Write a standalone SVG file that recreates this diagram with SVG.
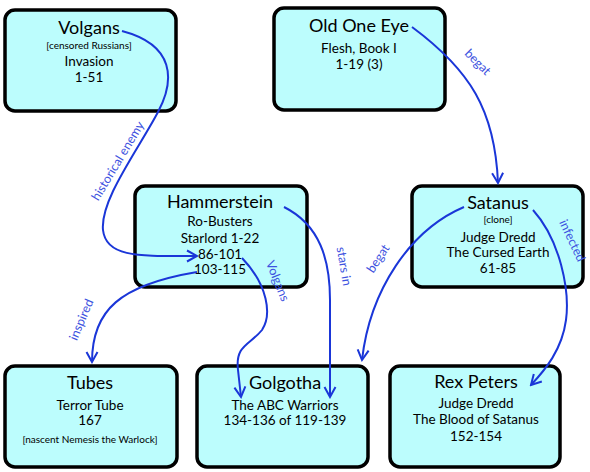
<svg xmlns="http://www.w3.org/2000/svg" width="590" height="472" viewBox="0 0 590 472">
<style>
.box{fill:#bcfdfd;stroke:#000;stroke-width:3.5}
text{font-family:Lato,"Liberation Sans",sans-serif;fill:#000;text-anchor:middle}
.t{font-size:18px}
.b{font-size:13.5px}
.s{font-size:10px}
.e{fill:none;stroke:#1a36d8;stroke-width:2}
.l{font-size:12.5px;fill:#3d52e0}
</style>
<defs>
<marker id="a" markerUnits="userSpaceOnUse" markerWidth="14" markerHeight="14" viewBox="0 0 14 14" refX="12" refY="7" orient="auto">
<path d="M2,1.5 L12,7 L2,12.5" fill="none" stroke="#1a36d8" stroke-width="2"/>
</marker>
</defs>
<rect width="590" height="472" fill="#fff"/>
<g id="volgans">
<rect class="box" x="5" y="10" width="171" height="101" rx="10"/>
<text class="t" x="89" y="34">Volgans</text>
<text class="s" x="89" y="49">[censored Russians]</text>
<text class="b" x="89" y="66">Invasion</text>
<text class="b" x="89" y="82">1-51</text>
</g>
<g id="oldoneeye">
<rect class="box" x="274" y="8" width="171" height="102" rx="10"/>
<text class="t" x="359" y="32">Old One Eye</text>
<text class="b" x="359" y="53">Flesh, Book I</text>
<text class="b" x="359" y="69">1-19 (3)</text>
</g>
<g id="hammerstein">
<rect class="box" x="135" y="186" width="172" height="101" rx="10"/>
<text class="t" x="220" y="208">Hammerstein</text>
<text class="b" x="220" y="226">Ro-Busters</text>
<text class="b" x="220" y="243">Starlord 1-22</text>
<text class="b" x="220" y="259">86-101</text>
<text class="b" x="220" y="274">103-115</text>
</g>
<g id="satanus">
<rect class="box" x="412" y="186" width="171" height="101" rx="10"/>
<text class="t" x="498" y="209">Satanus</text>
<text class="s" x="498" y="223">[clone]</text>
<text class="b" x="498" y="242">Judge Dredd</text>
<text class="b" x="498" y="257">The Cursed Earth</text>
<text class="b" x="498" y="273">61-85</text>
</g>
<g id="tubes">
<rect class="box" x="5" y="366" width="172" height="101" rx="10"/>
<text class="t" x="90" y="389">Tubes</text>
<text class="b" x="90" y="410">Terror Tube</text>
<text class="b" x="90" y="425">167</text>
<text class="s" x="90" y="443">[nascent Nemesis the Warlock]</text>
</g>
<g id="golgotha">
<rect class="box" x="197" y="366" width="171" height="101" rx="10"/>
<text class="t" x="285" y="389">Golgotha</text>
<text class="b" x="285" y="410">The ABC Warriors</text>
<text class="b" x="285" y="425">134-136 of 119-139</text>
</g>
<g id="rexpeters">
<rect class="box" x="390" y="366" width="170" height="101" rx="10"/>
<text class="t" x="476" y="388">Rex Peters</text>
<text class="b" x="476" y="408">Judge Dredd</text>
<text class="b" x="476" y="424">The Blood of Satanus</text>
<text class="b" x="476" y="441">152-154</text>
</g>
<g id="connectors">
<path class="e" marker-end="url(#a)" d="M122,31 C175,45 175,80 158,112 C138,150 100,200 103,230 C106,258 140,256 197,256"/>
<text class="l" transform="translate(118,161) rotate(-59)" dy="4">historical enemy</text>
<path class="e" marker-end="url(#a)" d="M412,27 C470,70 495,110 498,183"/>
<text class="l" transform="translate(472,68) rotate(45)" dy="-4">begat</text>
<path class="e" marker-end="url(#a)" d="M197,272 C120,285 92,310 92,362"/>
<text class="l" transform="translate(87,322) rotate(-67)" dy="-2">inspired</text>
<path class="e" marker-end="url(#a)" d="M242,258 C268,285 272,315 262,330 C250,345 235,345 238,370 L241,397"/>
<text class="l" transform="translate(270,284) rotate(68)" dy="-4">Volgans</text>
<path class="e" marker-end="url(#a)" d="M284,207 C320,225 330,260 330,300 L330,397"/>
<text class="l" transform="translate(334,268) rotate(80)" dy="-6">stars in</text>
<path class="e" marker-end="url(#a)" d="M464,207 C410,230 370,290 362,360"/>
<text class="l" transform="translate(385,263) rotate(-57)" dy="-4">begat</text>
<path class="e" marker-end="url(#a)" d="M533,210 C560,240 570,290 566,320 C562,350 545,370 531,385"/>
<text class="l" transform="translate(563,245) rotate(65)" dy="-6">infected</text>
</g>
</svg>
